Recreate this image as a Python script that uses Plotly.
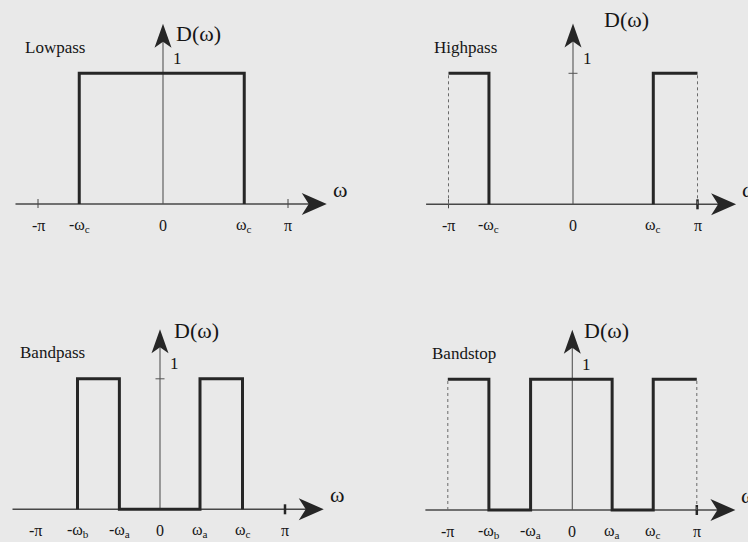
import plotly.graph_objects as go

# ---- ideal frequency responses D(omega); omega is measured in units of pi ----
lowpass_w = [-0.67, -0.67, 0.65, 0.65]
lowpass_d = [0, 1, 1, 0]

highpass_w = [-1.0, -0.675, -0.675, None, 0.645, 0.645, 1.0]
highpass_d = [1, 1, 0, None, 0, 1, 1]

bandpass_w = [-0.66, -0.66, -0.325, -0.325, 0.32, 0.32, 0.66, 0.66]
bandpass_d = [0, 1, 1, 0, 0, 1, 1, 0]

bandstop_w = [-1.0, -0.67, -0.67, -0.335, -0.335, 0.32, 0.32, 0.65, 0.65, 1.0]
bandstop_d = [1, 1, 0, 0, 1, 1, 0, 0, 1, 1]

# ---- frequency-axis tick positions and labels ----
lowpass_ticks = [-1.0, -0.67, 0.0, 0.65, 1.0]
lowpass_labels = ["-π", "-ω<sub>c</sub>", "0", "ω<sub>c</sub>", "π"]

highpass_ticks = [-1.0, -0.675, 0.0, 0.645, 1.0]
highpass_labels = ["-π", "-ω<sub>c</sub>", "0", "ω<sub>c</sub>", "π"]

bandpass_ticks = [-1.0, -0.66, -0.325, 0.0, 0.32, 0.66, 1.0]
bandpass_labels = ["-π", "-ω<sub>b</sub>", "-ω<sub>a</sub>", "0", "ω<sub>a</sub>", "ω<sub>c</sub>", "π"]

bandstop_ticks = [-1.0, -0.67, -0.335, 0.0, 0.32, 0.65, 1.0]
bandstop_labels = ["-π", "-ω<sub>b</sub>", "-ω<sub>a</sub>", "0", "ω<sub>a</sub>", "ω<sub>c</sub>", "π"]

titles = ["Lowpass", "Highpass", "Bandpass", "Bandstop"]

# ---- page geometry and styling ----
W, H = 748, 542
QW, QH = W / 2, H / 2
BG = "#e9e9e9"
INK = "#262626"
AXIS = "#474747"
TEXT = "#161616"
FONT = "Liberation Serif"

X_START, X_TIP, Y_TIP = -1.18, 1.31, 1.38

panels = [
    dict(title=titles[0], w=lowpass_w, d=lowpass_d, ticks=lowpass_ticks, labels=lowpass_labels,
         col=0, row=0, ox=163.0, oy=204.0, sx=125.0, sy=130.7,
         pi_ticks=[(-1.0, "thin"), (1.0, "thin")], dotted=False, dlab=(11, -10)),
    dict(title=titles[1], w=highpass_w, d=highpass_d, ticks=highpass_ticks, labels=highpass_labels,
         col=1, row=0, ox=199.0, oy=204.3, sx=124.5, sy=131.0,
         pi_ticks=[(-1.0, "thin"), (1.0, "thick")], dotted=True, dlab=(29, 4)),
    dict(title=titles[2], w=bandpass_w, d=bandpass_d, ticks=bandpass_ticks, labels=bandpass_labels,
         col=0, row=1, ox=160.0, oy=238.3, sx=125.0, sy=130.5,
         pi_ticks=[(1.0, "thick")], dotted=False, dlab=(12, -1)),
    dict(title=titles[3], w=bandstop_w, d=bandstop_d, ticks=bandstop_ticks, labels=bandstop_labels,
         col=1, row=1, ox=198.3, oy=239.0, sx=124.5, sy=130.7,
         pi_ticks=[(1.0, "thick")], dotted=True, dlab=(10, -1)),
]

fig = go.Figure()
layout_axes = {}
annotations = []

for i, p in enumerate(panels):
    n = "" if i == 0 else str(i + 1)
    xa, ya = "x" + n, "y" + n
    sx, sy = p["sx"], p["sy"]

    # each panel fills one quadrant; ranges follow from origin pixel and scale
    x0 = p["col"] * 0.5
    y_top = 1.0 - p["row"] * 0.5
    layout_axes["xaxis" + n] = dict(
        domain=[x0, x0 + 0.5], range=[-p["ox"] / sx, (QW - p["ox"]) / sx],
        visible=False, fixedrange=True, anchor=ya)
    layout_axes["yaxis" + n] = dict(
        domain=[y_top - 0.5, y_top], range=[-(QH - p["oy"]) / sy, p["oy"] / sy],
        visible=False, fixedrange=True, anchor=xa)

    def line(xs, ys, color, width, dash="solid"):
        fig.add_trace(go.Scatter(x=xs, y=ys, xaxis=xa, yaxis=ya, mode="lines",
                                 line=dict(color=color, width=width, dash=dash),
                                 hoverinfo="skip", showlegend=False))

    def poly(xs, ys):
        fig.add_trace(go.Scatter(x=xs, y=ys, xaxis=xa, yaxis=ya, mode="lines",
                                 fill="toself", fillcolor=INK, line=dict(width=0, color=INK),
                                 hoverinfo="skip", showlegend=False))

    # frequency axis with arrow
    line([X_START, X_TIP - 6 / sx], [0, 0], AXIS, 1.5)
    poly([X_TIP - 25 / sx, X_TIP, X_TIP - 25 / sx, X_TIP - 18 / sx, X_TIP - 25 / sx],
         [11 / sy, 0, -11 / sy, 0, 11 / sy])
    # D axis with arrow
    line([0, 0], [0, Y_TIP - 6 / sy], "#555555", 1.1)
    poly([-8.5 / sx, 0, 8.5 / sx, 0, -8.5 / sx],
         [Y_TIP - 24 / sy, Y_TIP, Y_TIP - 24 / sy, Y_TIP - 18 / sy, Y_TIP - 24 / sy])
    # unit tick on the D axis
    line([-4.5 / sx, 4.5 / sx], [1, 1], "#555555", 1)

    # tick marks at -pi / pi
    for xt, style in p["pi_ticks"]:
        if style == "thin":
            line([xt, xt], [-4 / sy, 5 / sy], AXIS, 1)
        else:
            line([xt, xt], [-5 / sy, 5 / sy], INK, 2.5)

    # dotted guides at the band edges +-pi
    if p["dotted"]:
        line([-1.0, -1.0], [0, 1], "#6a6a6a", 1, "dot")
        line([1.0, 1.0], [0, 1], "#6a6a6a", 1, "dot")

    # the response itself
    line(p["w"], p["d"], INK, 3)

    def ann(text, x, y, size, xshift=0, yshift=0, xanchor="center"):
        annotations.append(dict(text=text, x=x, y=y, xref=xa, yref=ya, showarrow=False,
                                xanchor=xanchor, yanchor="middle", xshift=xshift, yshift=yshift,
                                font=dict(family=FONT, size=size, color=TEXT)))

    for xt, lab in zip(p["ticks"], p["labels"]):
        ann(lab, xt, 0, 16, yshift=-21)
    ann(p["title"], 0, 1, 17, xshift=-108, yshift=26)
    ann("1", 0, 1, 17, xshift=14, yshift=15)
    ann("D(ω)", 0, Y_TIP, 22, xshift=p["dlab"][0], yshift=p["dlab"][1], xanchor="left")
    ann("ω", X_TIP, 0, 22, xshift=13, yshift=15)

fig.update_layout(
    width=W, height=H, autosize=False,
    margin=dict(l=0, r=0, t=0, b=0, pad=0),
    paper_bgcolor=BG, plot_bgcolor=BG,
    showlegend=False,
    annotations=annotations,
    **layout_axes,
)

fig.write_html("out.html")
